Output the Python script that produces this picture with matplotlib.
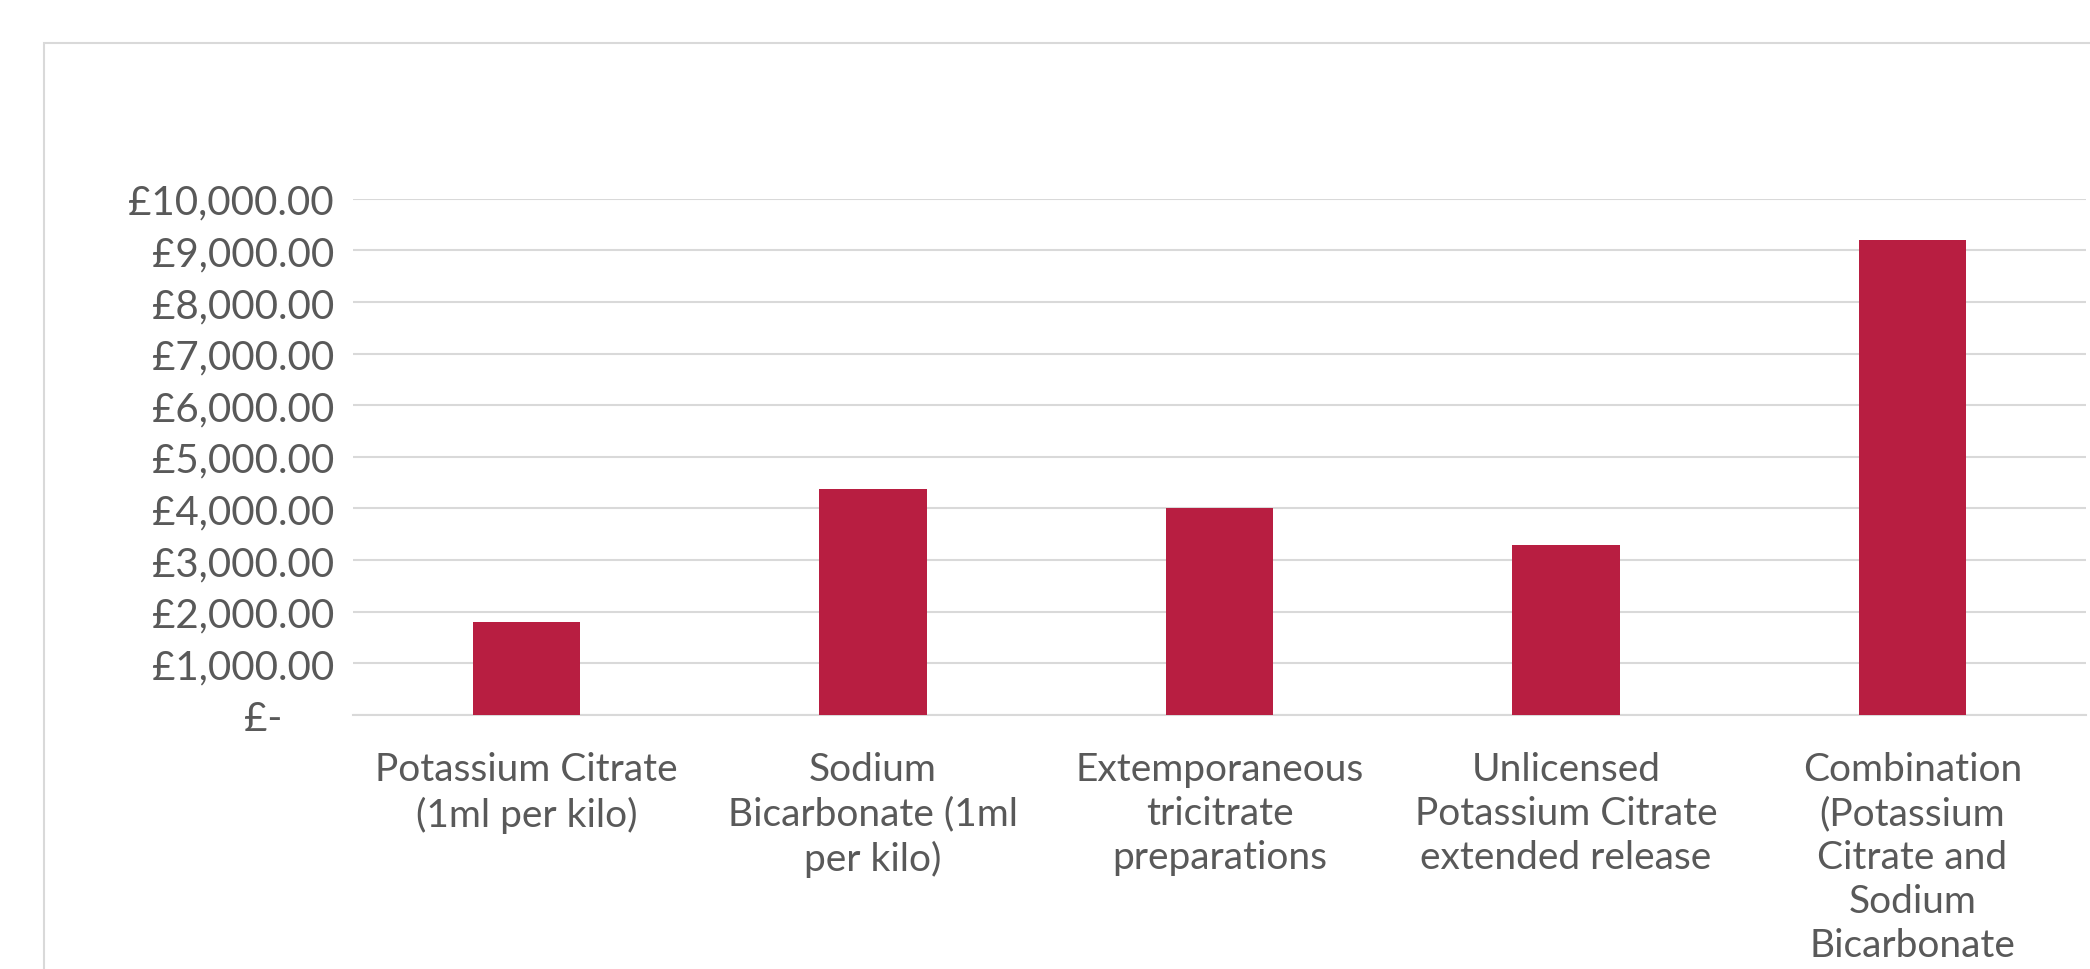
import matplotlib.pyplot as plt
import matplotlib.patches as patches
from matplotlib.ticker import FuncFormatter, MultipleLocator

categories = [
    "Potassium Citrate\n(1ml per kilo)",
    "Sodium\nBicarbonate (1ml\nper kilo)",
    "Extemporaneous\ntricitrate\npreparations",
    "Unlicensed\nPotassium Citrate\nextended release",
    "Combination\n(Potassium\nCitrate and\nSodium\nBicarbonate",
]
costs = [1800, 4370, 4010, 3300, 9210]

plt.rcParams['font.family'] = ['Lato', 'DejaVu Sans']
text_grey = '#595959'
grid_grey = '#d9d9d9'

fig = plt.figure(figsize=(20.9, 9.7), dpi=100)
ax = fig.add_axes([0.169, 0.262, 0.829, 0.532])

# outer chart border, runs off the right and bottom of the picture
frame = patches.Rectangle((44 / 2090, -0.2), 1.2, 1.2 - 44 / 970,
                          transform=fig.transFigure, fill=False,
                          edgecolor=grid_grey, linewidth=1.5, clip_on=False)
fig.patches.append(frame)

x = range(len(categories))
ax.bar(x, costs, width=0.31, color='#B81E41', zorder=3)

ax.set_xlim(-0.5, len(categories) - 0.5)
ax.set_ylim(0, 10000)
ax.yaxis.set_major_locator(MultipleLocator(1000))

def money(v, pos):
    if v == 0:
        return "£-     "
    return "£{:,.2f}".format(v)

ax.yaxis.set_major_formatter(FuncFormatter(money))
ax.grid(axis='y', color=grid_grey, linewidth=1.5, zorder=0)
ax.set_xticks(list(x))
ax.set_xticklabels(categories, linespacing=1.28)
ax.tick_params(axis='y', length=0, pad=14, labelsize=29, labelcolor=text_grey)
ax.tick_params(axis='x', length=0, pad=26, labelsize=28, labelcolor=text_grey)
for lbl in ax.get_xticklabels():
    lbl.set_verticalalignment('top')
    lbl.set_horizontalalignment('center')

for side in ['top', 'right', 'left']:
    ax.spines[side].set_visible(False)
ax.spines['bottom'].set_color(grid_grey)
ax.spines['bottom'].set_linewidth(1.5)

plt.savefig('out.png', dpi=100)
